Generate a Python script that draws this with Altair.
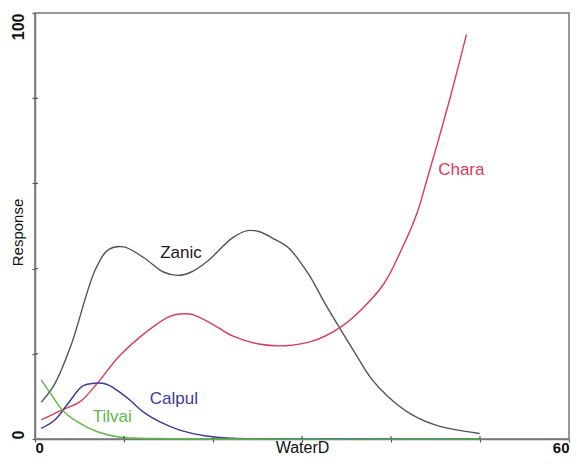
import altair as alt
import pandas as pd

# ---- data ----
zanic_x = [0.7, 2.19, 4.03, 6.81, 8.3, 9.97, 12.19, 14.41, 16.08, 17.56, 19.41, 22.19, 23.86,
           25.14, 27.0, 28.48, 30.7, 32.56, 34.22, 35.89, 37.74, 39.59, 42.19, 45.14, 49.97]
zanic_y = [8.6, 12.8, 21.9, 39.9, 44.5, 45.1, 42.6, 39.2, 38.4, 39.2, 41.8, 47.2, 48.9,
           48.7, 46.8, 44.9, 38.8, 31.9, 26.1, 20.4, 14.3, 10.1, 5.9, 3.2, 1.3]

chara_x = [0.7, 2.92, 5.14, 7.0, 9.59, 12.92, 15.14, 16.63, 17.74, 19.97, 22.19, 25.14, 28.11,
           31.08, 34.22, 36.63, 39.22, 41.08, 42.92, 44.03, 45.33, 46.63, 47.56, 48.48]
chara_y = [4.5, 6.7, 8.9, 13.1, 19.7, 25.8, 28.8, 29.4, 29.2, 26.9, 24.2, 22.3, 21.9,
           22.9, 26.1, 30.3, 36.5, 44.0, 53.0, 60.8, 70.2, 80.0, 87.4, 95.0]

calpul_x = [0.7, 2.19, 3.67, 5.33, 6.63, 8.11, 10.33, 12.19, 14.03, 16.26, 19.22, 22.19, 27.0, 35.0, 50.0]
calpul_y = [2.5, 4.4, 8.2, 12.4, 13.1, 12.8, 9.7, 6.3, 4.0, 2.1, 0.7, 0.2, 0.05, 0.0, 0.0]

tilvai_x = [0.7, 1.81, 3.11, 4.78, 7.0, 9.59, 14.03, 20.0, 50.0]
tilvai_y = [13.9, 10.5, 6.7, 4.0, 1.7, 0.4, 0.1, 0.0, 0.0]

species = ["Zanic", "Chara", "Calpul", "Tilvai"]
line_colors = ["#4f565e", "#dc3a58", "#3b3b9e", "#5cb84a"]
label_colors = ["#1a1a1a", "#dc3a58", "#3b3b9e", "#5cb84a"]
label_x = [16.4, 47.9, 15.6, 8.67]
label_y = [43.6, 63.2, 9.3, 5.2]

x_ticks = [0, 10, 20, 30, 40, 50, 60]
y_ticks = [0, 20, 40, 60, 80, 100]

# ---- tables ----
series = {"Zanic": (zanic_x, zanic_y), "Chara": (chara_x, chara_y),
          "Calpul": (calpul_x, calpul_y), "Tilvai": (tilvai_x, tilvai_y)}
rows = []
for name, (xs, ys) in series.items():
    for i, (a, b) in enumerate(zip(xs, ys)):
        rows.append({"species": name, "WaterD": a, "Response": b, "order": i})
df = pd.DataFrame(rows)
labels = pd.DataFrame({"species": species, "x": label_x, "y": label_y, "color": label_colors})

W, H = 534, 426
FONT = "Liberation Sans"

xscale = alt.Scale(domain=[0, 60], nice=False, zero=False)
yscale = alt.Scale(domain=[0, 100], nice=False)

xaxis = alt.Axis(values=x_ticks, labelExpr="datum.value == 0 || datum.value == 60 ? datum.label : ''",
                 grid=False, tickSize=3, labelPadding=10, labelFlush=True, labelFontSize=15,
                 labelBaseline="alphabetic",
                 labelFontWeight="bold", labelColor="#111", title="WaterD", titleFontSize=16,
                 titleFontWeight="normal", titleColor="#111", titleY=13, titleBaseline="alphabetic",
                 domainColor="#777", domainWidth=1.5, tickColor="#555", tickWidth=1.2)
yaxis = alt.Axis(values=y_ticks, labelExpr="datum.value == 0 || datum.value == 100 ? datum.label : ''",
                 grid=False, tickSize=3, labelPadding=6, labelAngle=-90,
                 labelAlign={"expr": "datum.value == 0 ? 'left' : 'right'"}, labelBaseline="bottom",
                 labelFontSize=16, labelFontWeight="bold", labelColor="#111",
                 title="Response", titleFontSize=15, titleFontWeight="normal", titleColor="#111",
                 titleAngle=-90, titleX=-13, titleY=219, titleAlign="center", titleBaseline="alphabetic",
                 domainColor="#777", domainWidth=1.5, tickColor="#555", tickWidth=1.2)

lines = alt.Chart(df).mark_line(strokeWidth=1.4, interpolate="catmull-rom").encode(
    x=alt.X("WaterD:Q", scale=xscale, axis=xaxis),
    y=alt.Y("Response:Q", scale=yscale, axis=yaxis),
    color=alt.Color("species:N", scale=alt.Scale(domain=species, range=line_colors), legend=None),
    order="order:Q",
)

text = alt.Chart(labels).mark_text(fontSize=17, font=FONT, align="center", baseline="middle").encode(
    x=alt.X("x:Q", scale=xscale),
    y=alt.Y("y:Q", scale=yscale),
    text="species:N",
    color=alt.Color("color:N", scale=None),
)

xt = pd.DataFrame({"t": x_ticks[1:-1]})
inner_x = alt.Chart(xt).mark_rule(color="#555", strokeWidth=1.2).encode(
    x=alt.X("t:Q", scale=xscale), y=alt.value(H - 3), y2=alt.value(H))
yt = pd.DataFrame({"t": y_ticks[1:-1]})
inner_y = alt.Chart(yt).mark_rule(color="#555", strokeWidth=1.2).encode(
    y=alt.Y("t:Q", scale=yscale), x=alt.value(0), x2=alt.value(3))

chart = alt.layer(lines, text, inner_x, inner_y).properties(
    width=W, height=H,
    autosize=alt.AutoSizeParams(type="none"),
    padding={"left": 27, "top": 5, "right": 1, "bottom": 17},
).configure_view(stroke="#777", strokeWidth=1.5).configure_text(font=FONT).configure_axis(
    labelFont=FONT, titleFont=FONT)

chart.save("out.html", embed_options={"renderer": "svg", "actions": False})
